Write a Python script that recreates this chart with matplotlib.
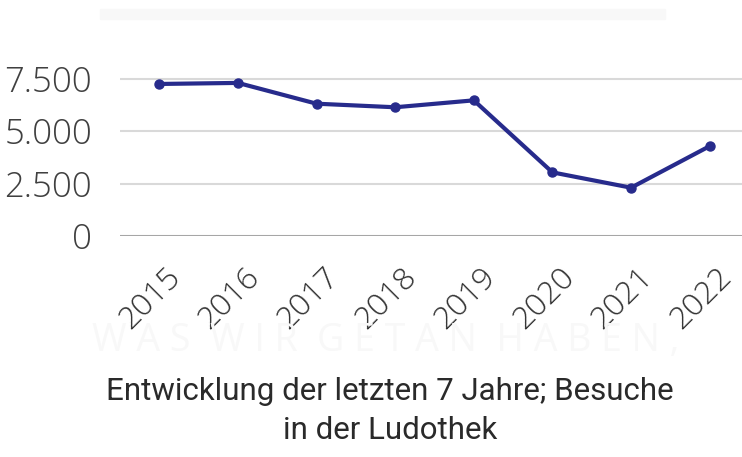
import matplotlib
matplotlib.use("Agg")
import matplotlib.pyplot as plt
import matplotlib.transforms as mt
from matplotlib.ticker import FuncFormatter

years = ["2015", "2016", "2017", "2018", "2019", "2020", "2021", "2022"]
visits = [7240, 7290, 6300, 6130, 6460, 3030, 2300, 4280]
y_ticks = [0, 2500, 5000, 7500]
caption = "Entwicklung der letzten 7 Jahre; Besuche\nin der Ludothek"

W, H = 742, 457
fig = plt.figure(figsize=(W / 100, H / 100), dpi=100)
fig.patch.set_facecolor("white")

# faint background band at top
fig.patches.append(plt.Rectangle((100 / W, 1 - 19 / H), 565 / W, 10 / H,
                                 transform=fig.transFigure, color="#f8f8f8", zorder=0))

# faint watermark
fig.text(386 / W, 1 - 341 / H, "W A S  W I R  G E T A N  H A B E N ,", ha="center",
         va="center", fontsize=27, color="#f8f8f8", family="Open Sans", zorder=0)

ax = fig.add_axes([120 / W, (H - 236) / H, 629 / W, 168 / H])
ax.set_facecolor("none")
x = list(range(len(years)))
ax.plot(x, visits, color="#272b8c", lw=3.0, marker="o", ms=6.5, solid_joinstyle="round",
        zorder=3, clip_on=False)

ax.set_xlim(-0.5, len(years) - 0.5)
ax.set_ylim(0, 8000)
ax.set_yticks(y_ticks)
ax.yaxis.set_major_formatter(FuncFormatter(lambda v, p: f"{int(v):,}".replace(",", ".")))
for v in y_ticks:
    ax.axhline(v, color="#a6a6a6" if v == 0 else "#d9d9d9", lw=1.5, zorder=1)

for s in ax.spines.values():
    s.set_visible(False)
ax.tick_params(axis="y", length=0, pad=20, labelsize=25, labelcolor="#404040")
ax.tick_params(axis="x", length=0, pad=18, labelsize=23, labelcolor="#333333")
for lab in ax.get_yticklabels():
    lab.set_family("Open Sans")
    lab.set_fontweight("light")

ax.set_xticks(x)
ax.set_xticklabels(years, rotation=45, ha="right", va="top", rotation_mode="anchor",
                   family="Open Sans", fontweight="light")
offset = mt.ScaledTranslation(6 / 100, 0, fig.dpi_scale_trans)
for lab in ax.get_xticklabels():
    lab.set_transform(lab.get_transform() + offset)

fig.text(390 / W, 1 - 411 / H, caption, ha="center", va="center", fontsize=22.5,
         color="#2a2a2a", family=["Roboto", "DejaVu Sans"], linespacing=1.4)

fig.savefig("out.png", dpi=100, facecolor="white")
